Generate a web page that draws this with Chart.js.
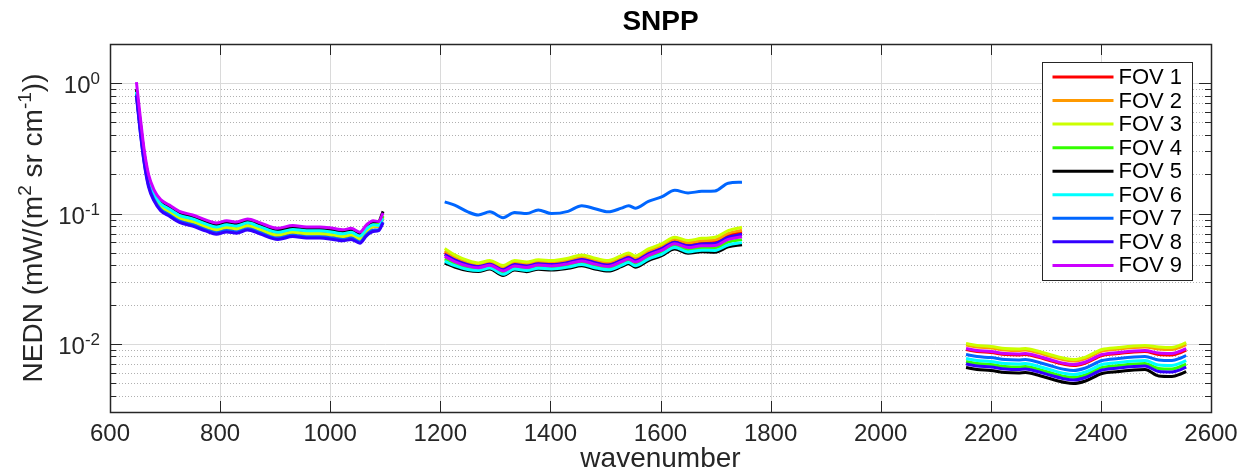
<!DOCTYPE html>
<html><head><meta charset="utf-8">
<script src="https://cdn.jsdelivr.net/npm/chart.js@4"></script>
<style>html,body{margin:0;padding:0;background:#fff;overflow:hidden}#wrap{width:1241px;height:472px}</style>
</head><body><div id="wrap"><canvas id="c" width="1241" height="472" style="width:1241px;height:472px"></canvas></div>
<script>
// ---------- data ----------
const chartTitle = 'SNPP';
const xLabel = 'wavenumber';
const xTickValues = [600, 800, 1000, 1200, 1400, 1600, 1800, 2000, 2200, 2400, 2600];
const yMajorTicks = [0.01, 0.1, 1];
const yMajorExponents = ['-2', '-1', '0'];
const fovLabels = ['FOV 1', 'FOV 2', 'FOV 3', 'FOV 4', 'FOV 5', 'FOV 6', 'FOV 7', 'FOV 8', 'FOV 9'];
const fovColors = ['#ff0000', '#ff9900', '#ccff00', '#33ff00', '#000000', '#00ffff', '#0066ff', '#3300ff', '#cc00ff'];

const wnLeft = [648, 655, 662, 670, 680, 692, 708, 726, 750, 775, 793, 812, 830, 850, 872, 905, 932, 957, 981, 1005, 1023, 1038, 1054, 1066, 1078, 1088, 1096];
const wnMid = [1208, 1226, 1250, 1269, 1290, 1314, 1335, 1357, 1378, 1402, 1432, 1457, 1481, 1505, 1529, 1542, 1554, 1578, 1602, 1626, 1650, 1675, 1699, 1723, 1748];
const wnRight = [2155, 2175, 2200, 2226, 2250, 2263, 2285, 2310, 2335, 2350, 2372, 2402, 2432, 2460, 2480, 2505, 2529, 2545, 2555];

const fov1Left = [0.84, 0.46, 0.265, 0.175, 0.137, 0.115, 0.105, 0.0938, 0.088, 0.0803, 0.0762, 0.0794, 0.0776, 0.0821, 0.0767, 0.0695, 0.0731, 0.0713, 0.0713, 0.0695, 0.0677, 0.0695, 0.065, 0.0741, 0.0795, 0.080, 0.092];
const fov2Left = [0.83, 0.45, 0.26, 0.171, 0.134, 0.113, 0.102, 0.0916, 0.0859, 0.0784, 0.0744, 0.0775, 0.0758, 0.0802, 0.0749, 0.0678, 0.0714, 0.0696, 0.0696, 0.0678, 0.0661, 0.0678, 0.0634, 0.0726, 0.079, 0.080, 0.094];
const fov3Left = [0.84, 0.455, 0.262, 0.173, 0.135, 0.114, 0.103, 0.0927, 0.0869, 0.0793, 0.0753, 0.0784, 0.0766, 0.0811, 0.0757, 0.0686, 0.0722, 0.0704, 0.0704, 0.0686, 0.0668, 0.0686, 0.0642, 0.0735, 0.080, 0.081, 0.095];
const fov4Left = [0.88, 0.49, 0.285, 0.185, 0.145, 0.122, 0.111, 0.0993, 0.0931, 0.085, 0.0807, 0.084, 0.0821, 0.0869, 0.0812, 0.0735, 0.0774, 0.0754, 0.0754, 0.0735, 0.0716, 0.0735, 0.0688, 0.0783, 0.084, 0.083, 0.096];
const fov5Left = [0.90, 0.50, 0.29, 0.19, 0.148, 0.125, 0.113, 0.101, 0.095, 0.0866, 0.0822, 0.0856, 0.0837, 0.0885, 0.0827, 0.0749, 0.0788, 0.0769, 0.0769, 0.0749, 0.0730, 0.0749, 0.0701, 0.0798, 0.0862, 0.0870, 0.104];
const fov6Left = [0.86, 0.47, 0.275, 0.18, 0.142, 0.119, 0.108, 0.097, 0.091, 0.083, 0.0788, 0.0821, 0.0802, 0.0849, 0.0793, 0.0718, 0.0756, 0.0737, 0.0737, 0.0718, 0.070, 0.0718, 0.0672, 0.0765, 0.082, 0.081, 0.092];
const fov7Left = [0.82, 0.43, 0.25, 0.165, 0.128, 0.108, 0.0976, 0.0875, 0.082, 0.0749, 0.0711, 0.074, 0.0723, 0.0765, 0.0715, 0.0648, 0.0681, 0.0664, 0.0664, 0.0648, 0.0631, 0.0648, 0.0606, 0.0690, 0.0745, 0.075, 0.086];
const fov8Left = [0.80, 0.42, 0.245, 0.16, 0.125, 0.105, 0.0954, 0.0855, 0.0801, 0.0732, 0.0695, 0.0723, 0.0707, 0.0748, 0.0699, 0.0633, 0.0666, 0.0649, 0.0649, 0.0633, 0.0617, 0.0633, 0.0592, 0.0675, 0.0728, 0.074, 0.085];
const fov9Left = [1.02, 0.55, 0.31, 0.20, 0.152, 0.128, 0.116, 0.104, 0.0975, 0.089, 0.0845, 0.088, 0.086, 0.091, 0.085, 0.077, 0.081, 0.079, 0.079, 0.077, 0.075, 0.077, 0.072, 0.082, 0.088, 0.087, 0.101];

const fov1Mid = [0.0501, 0.0453, 0.0414, 0.0399, 0.0417, 0.0380, 0.0414, 0.0403, 0.0420, 0.0414, 0.0431, 0.0455, 0.0429, 0.0413, 0.0449, 0.0471, 0.0446, 0.0504, 0.0551, 0.0619, 0.0581, 0.0602, 0.0609, 0.0682, 0.0719];
const fov2Mid = [0.0517, 0.0464, 0.0423, 0.0407, 0.0425, 0.0388, 0.0423, 0.0411, 0.0429, 0.0423, 0.0440, 0.0465, 0.0439, 0.0422, 0.0460, 0.0482, 0.0457, 0.0516, 0.0564, 0.0634, 0.0597, 0.0619, 0.0628, 0.0705, 0.0745];
const fov3Mid = [0.0540, 0.0482, 0.0436, 0.0418, 0.0436, 0.0400, 0.0436, 0.0424, 0.0442, 0.0436, 0.0454, 0.0481, 0.0454, 0.0436, 0.0476, 0.0499, 0.0473, 0.0535, 0.0585, 0.0657, 0.0621, 0.0645, 0.0657, 0.0740, 0.0785];
const fov4Mid = [0.0449, 0.0413, 0.0384, 0.0375, 0.0391, 0.0352, 0.0386, 0.0375, 0.0392, 0.0386, 0.0399, 0.0419, 0.0397, 0.0381, 0.0413, 0.0435, 0.0410, 0.0462, 0.0505, 0.0567, 0.0528, 0.0545, 0.0545, 0.0604, 0.0631];
const fov5Mid = [0.0417, 0.0389, 0.0365, 0.0359, 0.0375, 0.0335, 0.0368, 0.0358, 0.0374, 0.0368, 0.0380, 0.0397, 0.0376, 0.0362, 0.0391, 0.0412, 0.0388, 0.0436, 0.0476, 0.0535, 0.0495, 0.0509, 0.0505, 0.0555, 0.0576];
const fov6Mid = [0.0430, 0.0399, 0.0372, 0.0365, 0.0382, 0.0342, 0.0375, 0.0365, 0.0381, 0.0375, 0.0388, 0.0406, 0.0384, 0.0370, 0.0400, 0.0421, 0.0397, 0.0447, 0.0487, 0.0548, 0.0508, 0.0523, 0.0521, 0.0574, 0.0598];
const fov7Mid = [0.123, 0.116, 0.103, 0.0975, 0.103, 0.093, 0.102, 0.100, 0.1065, 0.100, 0.104, 0.115, 0.109, 0.103, 0.110, 0.115, 0.110, 0.124, 0.134, 0.151, 0.144, 0.148, 0.149, 0.171, 0.174];
const fov8Mid = [0.0485, 0.0441, 0.0405, 0.0392, 0.0409, 0.0371, 0.0406, 0.0395, 0.0412, 0.0406, 0.0421, 0.0444, 0.0420, 0.0403, 0.0438, 0.0460, 0.0435, 0.0491, 0.0537, 0.0603, 0.0565, 0.0585, 0.0590, 0.0658, 0.0693];
const fov9Mid = [0.0469, 0.0428, 0.0395, 0.0384, 0.0401, 0.0363, 0.0396, 0.0386, 0.0402, 0.0396, 0.0411, 0.0433, 0.0409, 0.0393, 0.0427, 0.0448, 0.0424, 0.0478, 0.0522, 0.0587, 0.0548, 0.0566, 0.0569, 0.0633, 0.0664];

const fov1Right = [0.00905, 0.00873, 0.00858, 0.00828, 0.00821, 0.00828, 0.00792, 0.00738, 0.00694, 0.00682, 0.00713, 0.00814, 0.00843, 0.00866, 0.00873, 0.00828, 0.00821, 0.00858, 0.00897];
const fov2Right = [0.00980, 0.00946, 0.00929, 0.00897, 0.00889, 0.00897, 0.00858, 0.00799, 0.00752, 0.00738, 0.00772, 0.00881, 0.00913, 0.00937, 0.00946, 0.00913, 0.00905, 0.00946, 0.00988];
const fov3Right = [0.01006, 0.00971, 0.00954, 0.00921, 0.00913, 0.00921, 0.00881, 0.00821, 0.00772, 0.00758, 0.00792, 0.00905, 0.00937, 0.00962, 0.00971, 0.00946, 0.00937, 0.00980, 0.01024];
const fov4Right = [0.00732, 0.00706, 0.00694, 0.00670, 0.00664, 0.00670, 0.00641, 0.00597, 0.00562, 0.00552, 0.00577, 0.00658, 0.00682, 0.00700, 0.00706, 0.00647, 0.00641, 0.00670, 0.00700];
const fov5Right = [0.00658, 0.00635, 0.00624, 0.00602, 0.00597, 0.00602, 0.00577, 0.00537, 0.00505, 0.00496, 0.00519, 0.00592, 0.00613, 0.00630, 0.00635, 0.00567, 0.00562, 0.00587, 0.00613];
const fov6Right = [0.00772, 0.00745, 0.00732, 0.00706, 0.00700, 0.00706, 0.00676, 0.00630, 0.00592, 0.00582, 0.00608, 0.00694, 0.00719, 0.00738, 0.00745, 0.00688, 0.00682, 0.00713, 0.00745];
const fov7Right = [0.00828, 0.00799, 0.00785, 0.00758, 0.00752, 0.00758, 0.00726, 0.00676, 0.00635, 0.00624, 0.00653, 0.00745, 0.00772, 0.00792, 0.00799, 0.00752, 0.00745, 0.00779, 0.00814];
const fov8Right = [0.00700, 0.00676, 0.00664, 0.00641, 0.00635, 0.00641, 0.00613, 0.00572, 0.00537, 0.00528, 0.00552, 0.00630, 0.00653, 0.00670, 0.00676, 0.00613, 0.00608, 0.00635, 0.00664];
const fov9Right = [0.00921, 0.00889, 0.00873, 0.00843, 0.00836, 0.00843, 0.00807, 0.00752, 0.00706, 0.00694, 0.00726, 0.00828, 0.00858, 0.00881, 0.00889, 0.00850, 0.00843, 0.00881, 0.00921];

// ---------- build datasets ----------
const leftSets = [fov1Left, fov2Left, fov3Left, fov4Left, fov5Left, fov6Left, fov7Left, fov8Left, fov9Left];
const midSets = [fov1Mid, fov2Mid, fov3Mid, fov4Mid, fov5Mid, fov6Mid, fov7Mid, fov8Mid, fov9Mid];
const rightSets = [fov1Right, fov2Right, fov3Right, fov4Right, fov5Right, fov6Right, fov7Right, fov8Right, fov9Right];

function buildPoints(i) {
  const pts = [];
  wnLeft.forEach((w, k) => pts.push({ x: w, y: leftSets[i][k] }));
  pts.push({ x: 1150, y: null });
  wnMid.forEach((w, k) => pts.push({ x: w, y: midSets[i][k] }));
  pts.push({ x: 1950, y: null });
  wnRight.forEach((w, k) => pts.push({ x: w, y: rightSets[i][k] }));
  return pts;
}

const datasets = fovLabels.map((lab, i) => ({
  label: lab,
  data: buildPoints(i),
  borderColor: fovColors[i],
  backgroundColor: fovColors[i],
  borderWidth: 3,
  pointRadius: 0,
  pointHoverRadius: 0,
  cubicInterpolationMode: 'monotone',
  spanGaps: false,
  fill: false,
  order: fovLabels.length - 1 - i
}));

const FONT = '"Liberation Sans", Arial, Helvetica, sans-serif';
const AXC = '#262626';

const matlabAxes = {
  id: 'matlabAxes',
  beforeDatasetsDraw(chart) {
    const { ctx, chartArea: a, scales: { x, y } } = chart;
    ctx.save();
    ctx.lineWidth = 1;
    // vertical grid
    ctx.strokeStyle = '#dadada';
    xTickValues.forEach(v => {
      const px = Math.round(x.getPixelForValue(v)) + 0.5;
      if (px <= a.left + 1 || px >= a.right - 1) return;
      ctx.beginPath(); ctx.moveTo(px, a.top); ctx.lineTo(px, a.bottom); ctx.stroke();
    });
    // minor horizontal dotted grid
    ctx.strokeStyle = '#b0b0b0';
    ctx.setLineDash([1, 2]);
    yMajorTicks.concat([0.001]).forEach(d => {
      for (let m = 2; m <= 9; m++) {
        const v = d * m;
        const py = Math.round(y.getPixelForValue(v)) + 0.5;
        if (py <= a.top + 1 || py >= a.bottom - 1) continue;
        ctx.beginPath(); ctx.moveTo(a.left, py); ctx.lineTo(a.right, py); ctx.stroke();
      }
    });
    ctx.setLineDash([]);
    // major horizontal grid
    ctx.strokeStyle = '#dadada';
    yMajorTicks.forEach(v => {
      const py = Math.round(y.getPixelForValue(v)) + 0.5;
      ctx.beginPath(); ctx.moveTo(a.left, py); ctx.lineTo(a.right, py); ctx.stroke();
    });
    ctx.restore();
  },
  afterDatasetsDraw(chart) {
    const { ctx, chartArea: a, scales: { x, y } } = chart;
    ctx.save();
    ctx.strokeStyle = AXC;
    ctx.fillStyle = AXC;
    ctx.lineWidth = 1;
    // x ticks (top and bottom, inward)
    xTickValues.forEach(v => {
      const px = Math.round(x.getPixelForValue(v)) + 0.5;
      ctx.beginPath();
      ctx.moveTo(px, a.bottom); ctx.lineTo(px, a.bottom - 11);
      ctx.moveTo(px, a.top); ctx.lineTo(px, a.top + 11);
      ctx.stroke();
    });
    // y major ticks
    yMajorTicks.forEach(v => {
      const py = Math.round(y.getPixelForValue(v)) + 0.5;
      ctx.beginPath();
      ctx.moveTo(a.left, py); ctx.lineTo(a.left + 12, py);
      ctx.moveTo(a.right, py); ctx.lineTo(a.right - 12, py);
      ctx.stroke();
    });
    // y minor ticks
    yMajorTicks.concat([0.001]).forEach(d => {
      for (let m = 2; m <= 9; m++) {
        const py = Math.round(y.getPixelForValue(d * m)) + 0.5;
        if (py <= a.top + 1 || py >= a.bottom - 1) continue;
        ctx.beginPath();
        ctx.moveTo(a.left, py); ctx.lineTo(a.left + 6, py);
        ctx.moveTo(a.right, py); ctx.lineTo(a.right - 6, py);
        ctx.stroke();
      }
    });
    // axes box
    ctx.lineWidth = 1.5;
    ctx.strokeRect(Math.round(a.left) + 0.5, Math.round(a.top) + 0.5, Math.round(a.right - a.left), Math.round(a.bottom - a.top));

    // x tick labels
    ctx.font = '24px ' + FONT;
    ctx.textAlign = 'center';
    ctx.textBaseline = 'alphabetic';
    xTickValues.forEach(v => {
      ctx.fillText(String(v), x.getPixelForValue(v), a.bottom + 29);
    });
    // y tick labels 10^n
    yMajorTicks.forEach((v, i) => {
      const py = y.getPixelForValue(v);
      const right = a.left - 10;
      ctx.font = '17px ' + FONT;
      ctx.textAlign = 'right';
      const ew = ctx.measureText(yMajorExponents[i]).width;
      ctx.fillText(yMajorExponents[i], right, py + 1);
      ctx.font = '24px ' + FONT;
      ctx.fillText('10', right - ew, py + 10);
    });
    // x label
    ctx.font = '28px ' + FONT;
    ctx.textAlign = 'center';
    ctx.fillText(xLabel, (a.left + a.right) / 2, 467);
    // title
    ctx.fillStyle = '#000';
    ctx.font = 'bold 28px ' + FONT;
    ctx.fillText(chartTitle, (a.left + a.right) / 2, 29.5);
    // y label with superscripts
    ctx.fillStyle = AXC;
    const segs = [
      { t: 'NEDN (mW/(m', sup: false },
      { t: '2', sup: true },
      { t: ' sr cm', sup: false },
      { t: '-1', sup: true },
      { t: '))', sup: false }
    ];
    const nf = '28px ' + FONT, sf = '19px ' + FONT;
    let total = 0;
    segs.forEach(s => { ctx.font = s.sup ? sf : nf; s.w = ctx.measureText(s.t).width; total += s.w; });
    ctx.translate(42, (a.top + a.bottom) / 2);
    ctx.rotate(-Math.PI / 2);
    ctx.textAlign = 'left';
    let cx = -total / 2;
    segs.forEach(s => {
      ctx.font = s.sup ? sf : nf;
      ctx.fillText(s.t, cx, s.sup ? -11 : 0);
      cx += s.w;
    });
    ctx.restore();
  },
  afterDraw(chart) {
    const { ctx, chartArea: a } = chart;
    ctx.save();
    const bx = Math.round(a.right - 169) + 0.5, by = Math.round(a.top + 18) + 0.5;
    const bw = 150, bh = 218;
    ctx.fillStyle = '#fff';
    ctx.fillRect(bx, by, bw, bh);
    ctx.strokeStyle = AXC;
    ctx.lineWidth = 1;
    ctx.strokeRect(bx, by, bw, bh);
    ctx.font = '22px ' + FONT;
    ctx.textAlign = 'left';
    ctx.textBaseline = 'middle';
    chart.data.datasets.forEach((ds, i) => {
      const ry = by + 14.5 + i * 23.55;
      ctx.strokeStyle = ds.borderColor;
      ctx.lineWidth = 3;
      ctx.beginPath(); ctx.moveTo(bx + 10, ry); ctx.lineTo(bx + 71, ry); ctx.stroke();
      ctx.fillStyle = '#000';
      ctx.fillText(ds.label, bx + 76, ry + 1);
    });
    ctx.restore();
  }
};

new Chart(document.getElementById('c'), {
  type: 'line',
  data: { datasets },
  options: {
    responsive: false,
    devicePixelRatio: 1,
    animation: false,
    events: [],
    layout: { autoPadding: false, padding: { left: 110, right: 30, top: 44, bottom: 60 } },
    scales: {
      x: { type: 'linear', min: 600, max: 2600, display: false },
      y: { type: 'logarithmic', min: 0.003, max: 2, display: false }
    },
    plugins: { legend: { display: false }, title: { display: false }, tooltip: { enabled: false } }
  },
  plugins: [matlabAxes]
});
</script></body></html>
